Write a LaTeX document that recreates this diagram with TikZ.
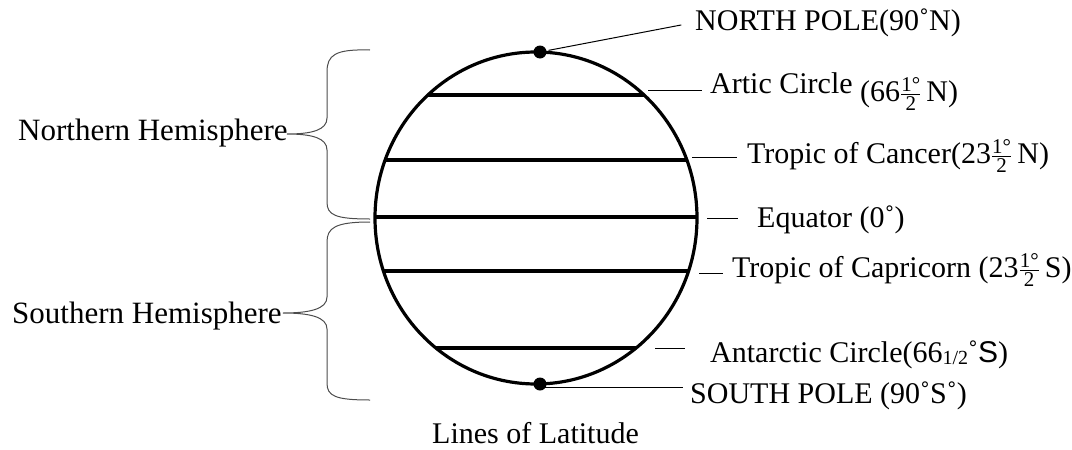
\documentclass[tikz,border=0pt]{standalone}
\usepackage{amsmath}
\usepackage{fontspec}
\setmainfont{Liberation Serif}
\newfontfamily\arialfont{Liberation Sans}
\usetikzlibrary{positioning}

\newcommand{\halfdeg}{$\frac{\text{1°}}{\text{2}}$}

\begin{document}
\begin{tikzpicture}[
    x=1pt, y=-1pt,
    font=\fontsize{30}{36}\selectfont,
    lbl/.style={anchor=base west, inner sep=0pt},
    hemi/.style={lbl, font=\fontsize{31}{37}\selectfont},
    leader/.style={line width=1pt},
    chord/.style={line width=3.2pt},
    dot/.style={circle, fill, inner sep=0pt, minimum size=13pt},
    brace/.style={draw=black!70, line width=1pt}
]
\useasboundingbox (0,0) rectangle (1072,450);

% latitude lines
\begin{scope}
\clip (536,218) ellipse [x radius=161, y radius=166];
\foreach \lat in {95,160,217,271,348}
    \draw[chord] (360,\lat) -- (710,\lat);
\end{scope}
\draw[line width=3.2pt] (536,218) ellipse [x radius=161, y radius=166];

\node[dot] (np) at (540,52) {};
\node[dot] (sp) at (540,384) {};

% labels
\node[lbl] (north) at (695,30) {NORTH POLE(90˚N)};
\node[lbl] (artic) at (710,93) {Artic Circle \raisebox{-8pt}{(66\halfdeg\,N)}};
\node[lbl] (cancer) at (747,163) {Tropic of Cancer(23\halfdeg\,N)};
\node[lbl] (equator) at (757,227) {Equator (0˚)};
\node[lbl] (capri) at (732,277) {Tropic of Capricorn (23\halfdeg\,S)};
\node[lbl] (antarc) at (710,362) {Antarctic Circle(66\raisebox{-2pt}{\fontsize{20}{24}\selectfont 1/2}˚{\arialfont S})};
\node[lbl] (south) at (690,403) {SOUTH POLE (90˚S˚)};
\node[hemi] (nhemi) at (18,140) {Northern Hemisphere};
\node[hemi] (shemi) at (12,323) {Southern Hemisphere};
\node[lbl] (title) at (432,443) {Lines of Latitude};

\coordinate (a1) at (648,90);
\coordinate (a2) at (692,157);
\coordinate (a3) at (707,218);
\coordinate (a4) at (699,273);
\coordinate (a5) at (655,348);
\coordinate (a6) at (545,387);

\draw[leader, shorten <=2pt, shorten >=14pt] (np) -- (north.west);
\draw[leader, shorten >=8pt] (a1) -- (a1 -| artic.west);
\draw[leader, shorten >=10pt] (a2) -- (a2 -| cancer.west);
\draw[leader, shorten >=19pt] (a3) -- (a3 -| equator.west);
\draw[leader, shorten >=9pt] (a4) -- (a4 -| capri.west);
\draw[leader, shorten >=25pt] (a5) -- (a5 -| antarc.west);
\draw[leader, shorten >=7pt] (a6) -- (a6 -| south.west);

% braces
\draw[brace] (370,50) .. controls (335,49) and (327,55) .. (327,72) -- (327,118)
    .. controls (327,130) and (312,134) .. (287,134)
    .. controls (312,134) and (327,138) .. (327,150) -- (327,202)
    .. controls (327,215) and (335,219) .. (370,219);
\draw[brace] (370,222) .. controls (335,222) and (327,228) .. (327,242) -- (327,297)
    .. controls (327,309) and (310,313) .. (283,313)
    .. controls (310,313) and (327,317) .. (327,329) -- (327,383)
    .. controls (327,396) and (335,400) .. (370,400);
\end{tikzpicture}
\end{document}
